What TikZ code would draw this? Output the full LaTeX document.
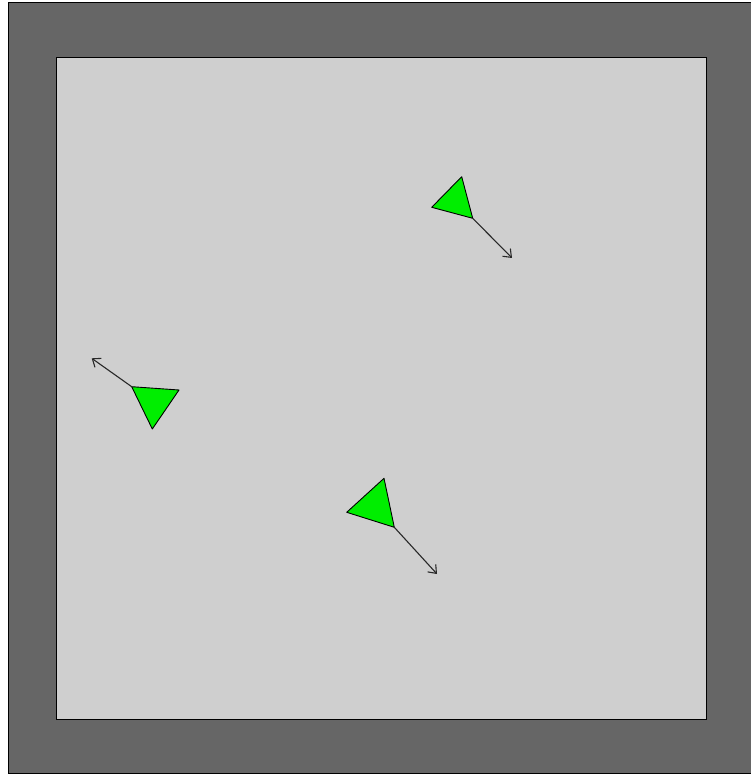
\documentclass[tikz,border=0pt]{standalone}
\usetikzlibrary{arrows.meta}
\definecolor{wallgray}{RGB}{102,102,102}
\definecolor{floorgray}{RGB}{207,207,207}
\definecolor{agentgreen}{RGB}{0,238,0}
\definecolor{headinggray}{RGB}{40,40,40}
\tikzset{
  agent/.style={fill=agentgreen,draw=black,line width=0.9pt,line join=round},
  heading/.style={draw=headinggray,line width=1.1pt,-{Straight Barb[length=7pt,width=11pt]}}
}

\begin{document}
\begin{tikzpicture}[x=1pt,y=-1pt]
  \useasboundingbox (0,0) rectangle (750,775);
  % arena
  \fill[white] (0,0) rectangle (750,775);
  \draw[fill=wallgray,line width=1pt] (8,3) rectangle (756,773);
  \draw[fill=floorgray,line width=1pt] (56,58) rectangle (706,719);
  % agents: three vertices, heading tip
  \foreach \n/\ax/\ay/\bx/\by/\cx/\cy/\tx/\ty in {%
      a/461.7/176.7/431.7/207.3/472.7/218.3/512/258,
      b/131.7/386.7/179/390/152.3/429/91.7/358.3,
      c/384/478.3/346.7/512.3/394.3/527.3/437/574}{
    \coordinate (\n1) at (\ax,\ay);
    \coordinate (\n2) at (\bx,\by);
    \coordinate (\n3) at (\cx,\cy);
    \coordinate (\n-tip) at (\tx,\ty);
  }
  \draw[heading] (a3) -- (a-tip);
  \draw[heading] (b1) -- (b-tip);
  \draw[heading] (c3) -- (c-tip);
  \draw[agent] (a1) -- (a2) -- (a3) -- cycle;
  \draw[agent] (b1) -- (b2) -- (b3) -- cycle;
  \draw[agent] (c1) -- (c2) -- (c3) -- cycle;
\end{tikzpicture}
\end{document}
